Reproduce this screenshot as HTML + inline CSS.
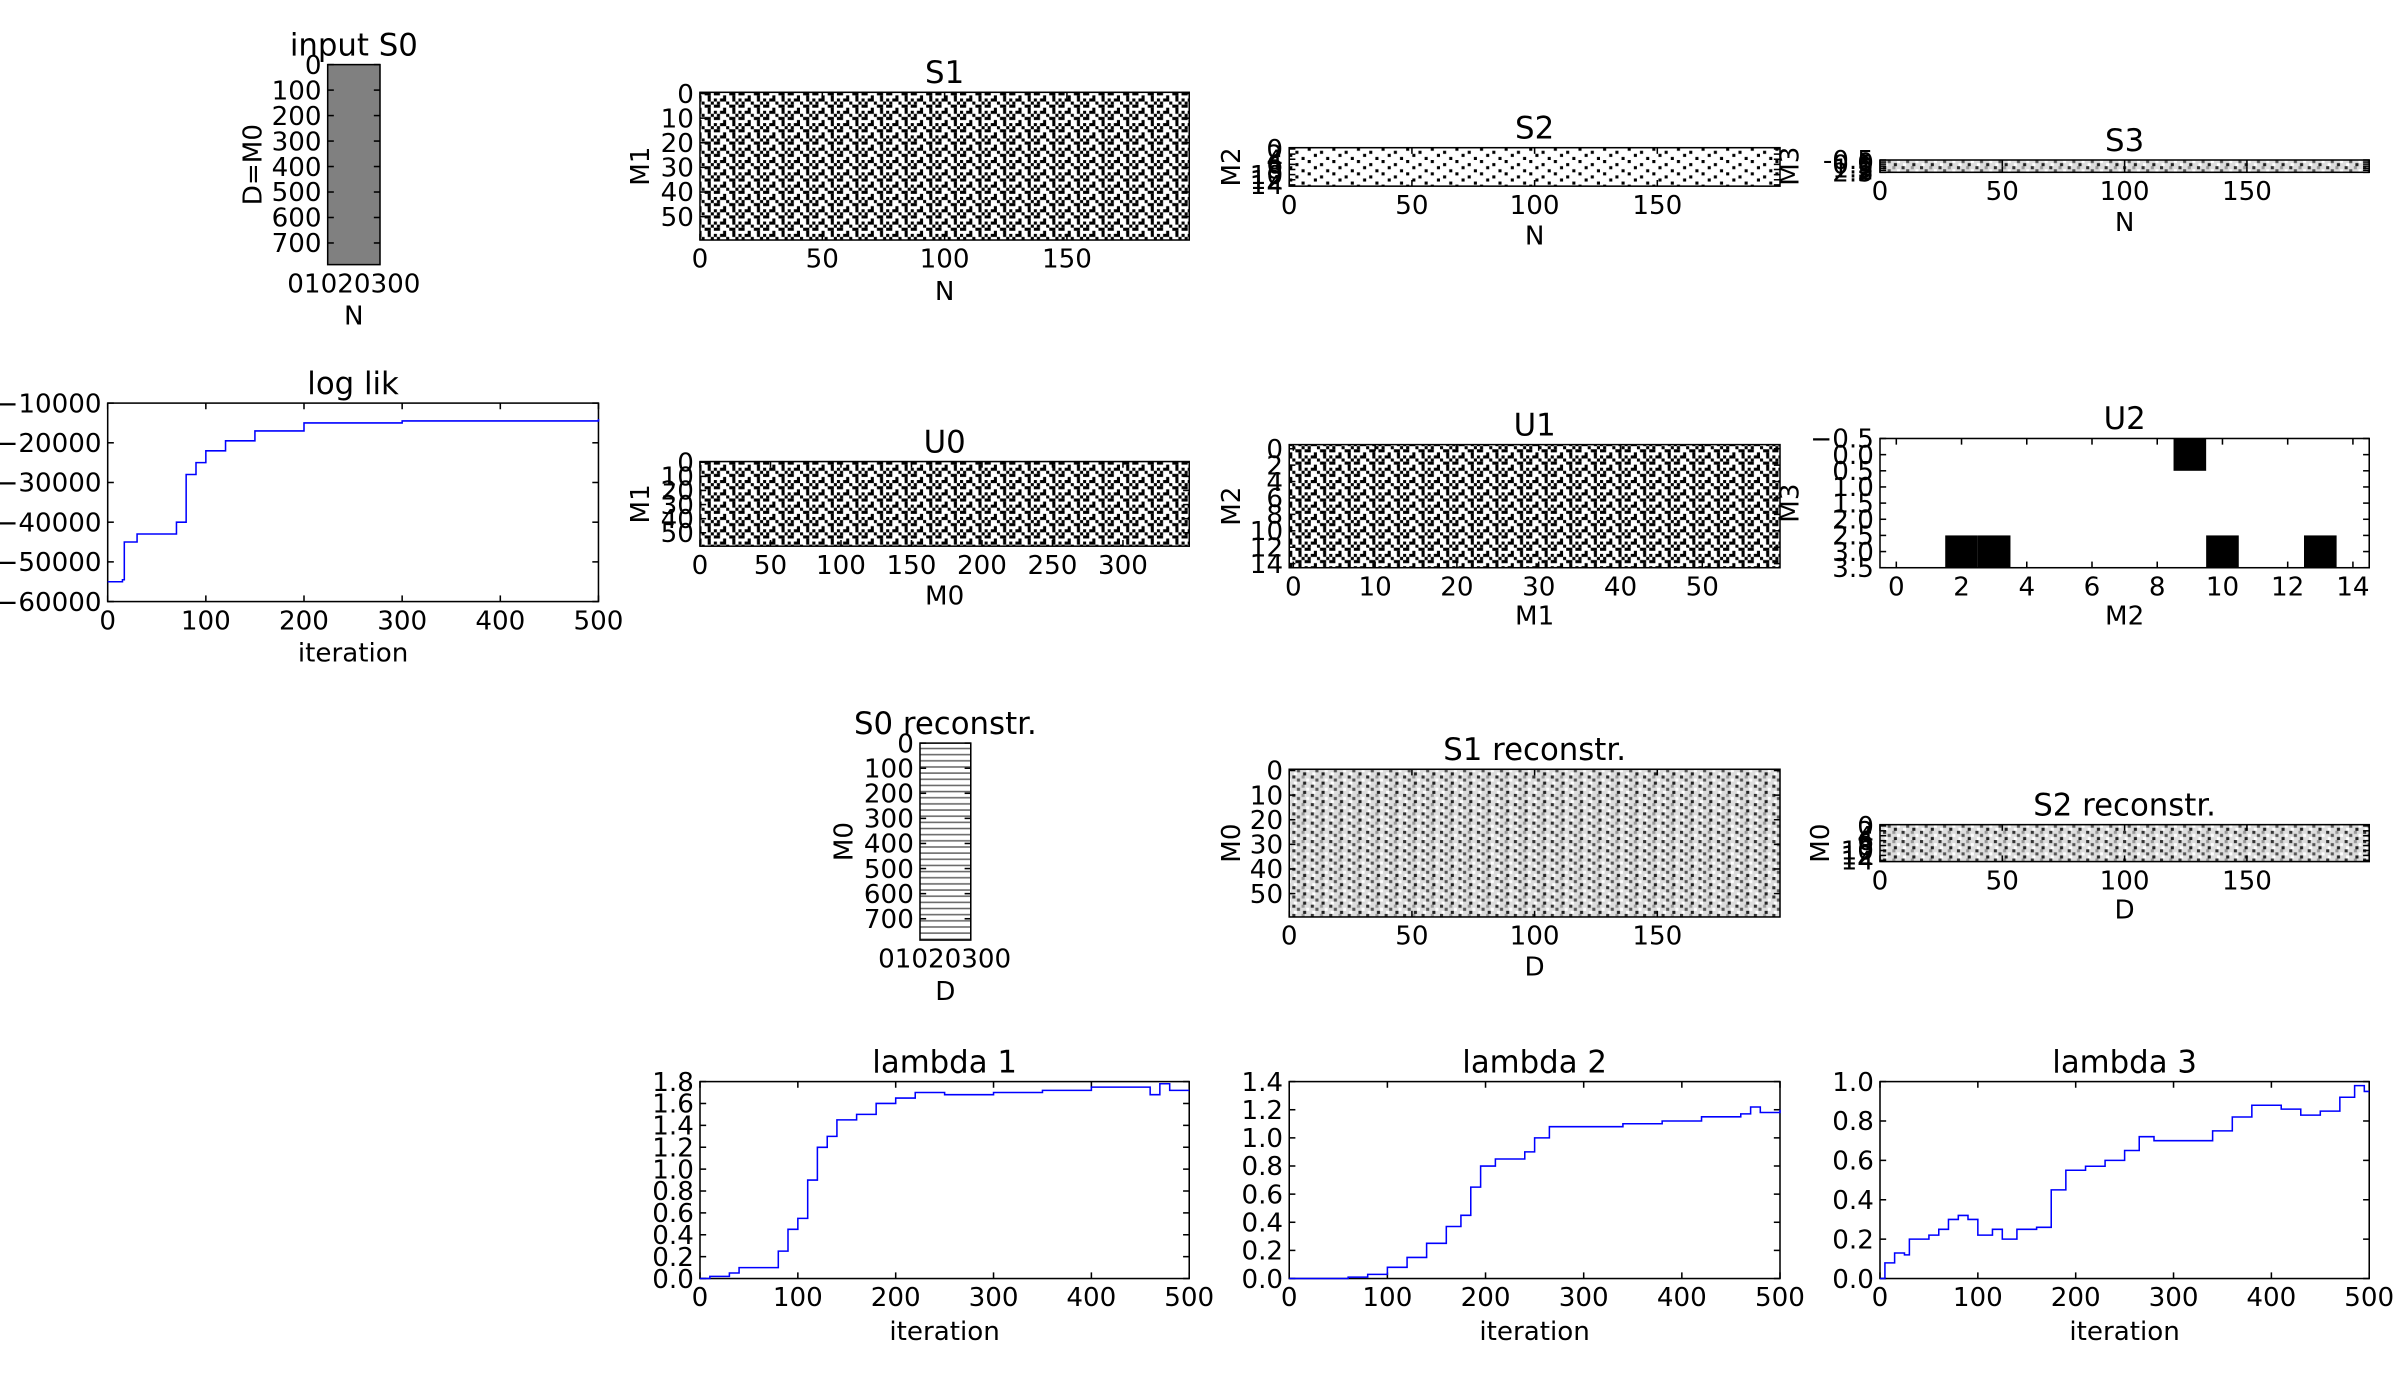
<!DOCTYPE html>
<html><head><meta charset="utf-8"><style>
html,body{margin:0;padding:0;background:#fff}
svg{display:block}
text{font-family:"DejaVu Sans","Liberation Sans",sans-serif;fill:#000}
</style></head><body>
<svg id="fig" width="2400" height="1377" viewBox="0 0 1560 895" preserveAspectRatio="none" xmlns="http://www.w3.org/2000/svg">
<defs>
<pattern id="bw" width="16" height="8" patternUnits="userSpaceOnUse">
<rect width="16" height="8" fill="#fff"/>
<rect x="0" y="0" width="2" height="2" fill="#000"/><rect x="4" y="0" width="4" height="2" fill="#000"/><rect x="12" y="0" width="2" height="2" fill="#000"/>
<rect x="2" y="2" width="2" height="2" fill="#000"/><rect x="8" y="2" width="2" height="2" fill="#000"/><rect x="14" y="2" width="2" height="2" fill="#000"/>
<rect x="0" y="4" width="4" height="2" fill="#000"/><rect x="10" y="4" width="4" height="2" fill="#000"/>
<rect x="6" y="6" width="2" height="2" fill="#000"/><rect x="12" y="6" width="2" height="2" fill="#000"/>
</pattern>
<pattern id="sparse" width="16" height="8" patternUnits="userSpaceOnUse">
<rect width="16" height="8" fill="#fff"/>
<rect x="2" y="0" width="2" height="2" fill="#000"/><rect x="10" y="2" width="2" height="2" fill="#000"/>
<rect x="6" y="4" width="2" height="2" fill="#000"/><rect x="14" y="6" width="2" height="2" fill="#000"/>
</pattern>
<pattern id="gray" width="12" height="6" patternUnits="userSpaceOnUse">
<rect width="12" height="6" fill="#ddd"/>
<rect x="0" y="0" width="2" height="2" fill="#333"/><rect x="6" y="0" width="2" height="2" fill="#999"/>
<rect x="3" y="2" width="2" height="2" fill="#555"/><rect x="9" y="2" width="2" height="2" fill="#fff"/>
<rect x="1" y="4" width="2" height="2" fill="#fff"/><rect x="7" y="4" width="2" height="2" fill="#222"/>
</pattern>
<pattern id="stripes" width="6" height="4" patternUnits="userSpaceOnUse">
<rect width="6" height="4" fill="#fff"/><rect x="0" y="2" width="6" height="1" fill="#666"/>
</pattern>
</defs>
</svg>
<script>
const llIter=[0,15,17,30,65,70,80,90,100,120,150,200,300,500];
const llVal=[-55000,-54500,-45000,-43000,-43000,-40000,-28000,-25000,-22000,-19500,-17000,-15000,-14500,-14000];
const l1Iter=[0,10,30,40,70,80,90,100,110,120,130,140,160,180,200,220,250,300,350,400,440,460,470,480,500];
const l1Val=[0,0.02,0.05,0.1,0.1,0.25,0.45,0.55,0.9,1.2,1.3,1.45,1.5,1.6,1.65,1.7,1.68,1.7,1.72,1.75,1.75,1.68,1.78,1.72,1.72];
const l2Iter=[0,60,80,100,120,140,160,175,185,195,210,240,250,265,300,340,380,420,460,470,480,500];
const l2Val=[0,0.01,0.03,0.08,0.15,0.25,0.37,0.45,0.65,0.8,0.85,0.9,1.0,1.08,1.08,1.1,1.12,1.15,1.17,1.22,1.18,1.2];
const l3Iter=[0,5,15,25,30,50,60,70,80,90,100,115,125,140,160,175,190,210,230,250,265,280,320,340,360,380,410,430,450,470,485,495,500];
const l3Val=[0,0.08,0.13,0.12,0.2,0.22,0.25,0.3,0.32,0.3,0.22,0.25,0.2,0.25,0.26,0.45,0.55,0.57,0.6,0.65,0.72,0.7,0.7,0.75,0.82,0.88,0.86,0.83,0.85,0.92,0.98,0.95,0.95];
const u2Rows=[0,3,3,3,3];
const u2Cols=[9,2,3,10,13];

const svg=document.getElementById('fig');
const NS='http://www.w3.org/2000/svg';
function el(tag,attrs,parent){const e=document.createElementNS(NS,tag);for(const k in attrs)e.setAttribute(k,attrs[k]);(parent||svg).appendChild(e);return e;}
function txt(x,y,s,size,anchor,rot,name){const t=el('text',{x:x,y:y,'font-size':size,'text-anchor':anchor||'middle'});if(rot)t.setAttribute('transform','rotate(-90 '+x+' '+y+')');t.textContent=s;


return t;}
function axes(o){
 const g=el('g',{});
 
 
 const sx=v=>o.x0+(v-o.xmin)/(o.xmax-o.xmin)*(o.x1-o.x0);
 const sy=o.ydown?(v=>o.y0+(v-o.ymin)/(o.ymax-o.ymin)*(o.y1-o.y0)):(v=>o.y1-(v-o.ymin)/(o.ymax-o.ymin)*(o.y1-o.y0));
 if(o.fill){const r=el('rect',{x:o.x0,y:o.y0,width:o.x1-o.x0,height:o.y1-o.y0,fill:o.fill},g);}
 o.sx=sx;o.sy=sy;o.g=g;
 if(o.draw)o.draw(o);
 el('rect',{x:o.x0,y:o.y0,width:o.x1-o.x0,height:o.y1-o.y0,fill:'none',stroke:'#000','stroke-width':1},g);
 const fs=o.fs||17;
 (o.xt||[]).forEach((v,i)=>{const x=sx(v);el('line',{x1:x,x2:x,y1:o.y1,y2:o.y1-4,stroke:'#000'},g);el('line',{x1:x,x2:x,y1:o.y0,y2:o.y0+4,stroke:'#000'},g);
  txt(x,o.y1+fs+1,o.xtl?o.xtl[i]:String(v),fs,'middle',false,'x-tick-label');});
 (o.yt||[]).forEach((v,i)=>{const y=sy(v);el('line',{x1:o.x0,x2:o.x0+4,y1:y,y2:y,stroke:'#000'},g);el('line',{x1:o.x1,x2:o.x1-4,y1:y,y2:y,stroke:'#000'},g);
  txt(o.x0-4,y+6,o.ytl?o.ytl[i]:String(v),fs,'end',false,'y-tick-label');});
 if(o.title)txt((o.x0+o.x1)/2,o.y0-6,o.title,20,'middle',false,'chart-title');
 if(o.xl)txt((o.x0+o.x1)/2,o.xly,o.xl,17,'middle',false,'x-axis-title');
 if(o.yl)txt(o.ylx,(o.y0+o.y1)/2,o.yl,17,'middle',true,'y-axis-title');
 return o;
}
function line(o,xs,ys){let d='';xs.forEach((x,i)=>{const px=o.sx(x),py=o.sy(ys[i]);
 if(i===0)d+='M'+px.toFixed(1)+','+py.toFixed(1);
 else d+='H'+px.toFixed(1)+'V'+py.toFixed(1);});
 const p=el('path',{d:d,fill:'none',stroke:'#0000ff','stroke-width':1},o.g);
 
 }

const k7=[0,100,200,300,400,500,600,700];
axes({name:'input-s0-panel',x0:213,x1:247,y0:42,y1:172,xmin:0,xmax:34,ymin:0,ymax:785,ydown:true,xt:[],yt:k7,title:'input S0',xl:'N',xly:211,yl:'D=M0',ylx:170,fill:'#808080'});
txt(230,190,'01020300',17,'middle',false,'x-tick-label');
axes({name:'s1-panel',x0:455,x1:773,y0:60,y1:156,xmin:0,xmax:200,ymin:-0.5,ymax:59.5,ydown:true,xt:[0,50,100,150],yt:[0,10,20,30,40,50],title:'S1',xl:'N',xly:195,yl:'M1',ylx:422,fill:'url(#bw)'});
axes({name:'s2-panel',x0:838,x1:1157,y0:96,y1:121,xmin:0,xmax:200,ymin:-0.5,ymax:14.5,ydown:true,xt:[0,50,100,150],yt:[0,2,4,6,8,10,12,14],title:'S2',xl:'N',xly:159,yl:'M2',ylx:806,fill:'url(#sparse)',fs:17});
axes({name:'s3-panel',x0:1222,x1:1540,y0:104,y1:112,xmin:0,xmax:200,ymin:-0.5,ymax:2.5,ydown:true,xt:[0,50,100,150],yt:[-0.5,0,0.5,1,1.5,2,2.5],title:'S3',xl:'N',xly:150,yl:'M3',ylx:1169,fill:'url(#gray)'});
const ll=axes({name:'log-lik-panel',x0:70,x1:389,y0:262,y1:391,xmin:0,xmax:500,ymin:-60000,ymax:-10000,xt:[0,100,200,300,400,500],yt:[-60000,-50000,-40000,-30000,-20000,-10000],ytl:['\u221260000','\u221250000','\u221240000','\u221230000','\u221220000','\u221210000'],title:'log lik',xl:'iteration',xly:430});
line(ll,llIter,llVal);
axes({name:'u0-panel',x0:455,x1:773,y0:300,y1:355,xmin:0,xmax:347,ymin:-0.5,ymax:59.5,ydown:true,xt:[0,50,100,150,200,250,300],yt:[0,10,20,30,40,50],title:'U0',xl:'M0',xly:393,yl:'M1',ylx:422,fill:'url(#bw)'});
axes({name:'u1-panel',x0:838,x1:1157,y0:289,y1:369,xmin:-0.5,xmax:59.5,ymin:-0.5,ymax:14.5,ydown:true,xt:[0,10,20,30,40,50],yt:[0,2,4,6,8,10,12,14],title:'U1',xl:'M1',xly:406,yl:'M2',ylx:806,fill:'url(#bw)'});
axes({name:'u2-panel',x0:1222,x1:1540,y0:285,y1:369,xmin:-0.5,xmax:14.5,ymin:-0.5,ymax:3.5,ydown:true,xt:[0,2,4,6,8,10,12,14],yt:[-0.5,0,0.5,1,1.5,2,2.5,3,3.5],ytl:['\u22120.5','0.0','0.5','1.0','1.5','2.0','2.5','3.0','3.5'],title:'U2',xl:'M2',xly:406,yl:'M3',ylx:1169,fill:'#fff',
 draw:o=>{u2Rows.forEach((r,i)=>{const c=u2Cols[i];const x=o.sx(c-0.5),y=o.sy(r-0.5);const rc=el('rect',{x:x,y:y,width:o.sx(c+0.5)-x,height:o.sy(r+0.5)-y,fill:'#000'},o.g);
 
 });}});
axes({name:'s0-reconstr-panel',x0:598,x1:631,y0:483,y1:611,xmin:0,xmax:34,ymin:0,ymax:785,ydown:true,xt:[],yt:k7,title:'S0 reconstr.',xl:'D',xly:650,yl:'M0',ylx:554,fill:'url(#stripes)'});
txt(614,629,'01020300',17,'middle',false,'x-tick-label');
axes({name:'s1-reconstr-panel',x0:838,x1:1157,y0:500,y1:596,xmin:0,xmax:200,ymin:-0.5,ymax:59.5,ydown:true,xt:[0,50,100,150],yt:[0,10,20,30,40,50],title:'S1 reconstr.',xl:'D',xly:634,yl:'M0',ylx:806,fill:'url(#gray)'});
axes({name:'s2-reconstr-panel',x0:1222,x1:1540,y0:536,y1:560,xmin:0,xmax:200,ymin:-0.5,ymax:14.5,ydown:true,xt:[0,50,100,150],yt:[0,2,4,6,8,10,12,14],title:'S2 reconstr.',xl:'D',xly:597,yl:'M0',ylx:1189,fill:'url(#gray)'});
const iters=[0,100,200,300,400,500];
const a1=axes({name:'lambda-1-panel',x0:455,x1:773,y0:703,y1:831,xmin:0,xmax:500,ymin:0,ymax:1.8,xt:iters,yt:[0,0.2,0.4,0.6,0.8,1,1.2,1.4,1.6,1.8],ytl:['0.0','0.2','0.4','0.6','0.8','1.0','1.2','1.4','1.6','1.8'],title:'lambda 1',xl:'iteration',xly:871});
line(a1,l1Iter,l1Val);
const a2=axes({name:'lambda-2-panel',x0:838,x1:1157,y0:703,y1:831,xmin:0,xmax:500,ymin:0,ymax:1.4,xt:iters,yt:[0,0.2,0.4,0.6,0.8,1,1.2,1.4],ytl:['0.0','0.2','0.4','0.6','0.8','1.0','1.2','1.4'],title:'lambda 2',xl:'iteration',xly:871});
line(a2,l2Iter,l2Val);
const a3=axes({name:'lambda-3-panel',x0:1222,x1:1540,y0:703,y1:831,xmin:0,xmax:500,ymin:0,ymax:1.0,xt:iters,yt:[0,0.2,0.4,0.6,0.8,1],ytl:['0.0','0.2','0.4','0.6','0.8','1.0'],title:'lambda 3',xl:'iteration',xly:871});
line(a3,l3Iter,l3Val);
</script>
</body></html>
